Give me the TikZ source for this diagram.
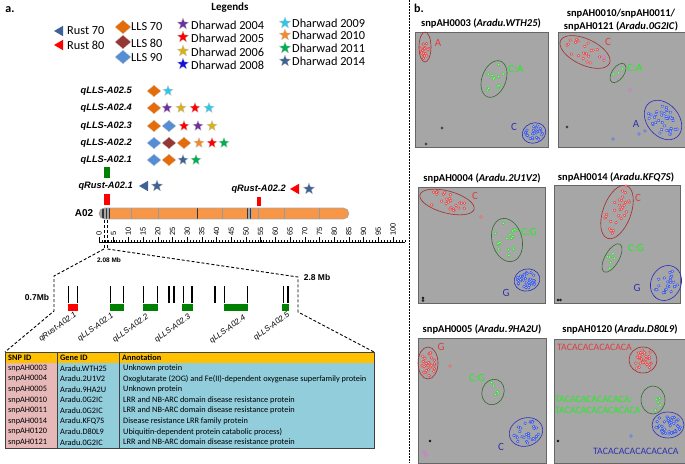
\documentclass[tikz,border=0pt]{standalone}
\usepackage{fontspec}
\setmainfont{Carlito}
\newfontfamily\arialf{Liberation Sans}
\usetikzlibrary{shapes.geometric}
\definecolor{lorange}{HTML}{E46C0A}
\definecolor{lbrown}{HTML}{953735}
\definecolor{lblue}{HTML}{558ED5}
\definecolor{spurple}{HTML}{7030A0}
\definecolor{sred}{HTML}{FF0000}
\definecolor{sgold}{HTML}{D6B11C}
\definecolor{sblue}{HTML}{1010E0}
\definecolor{scyan}{HTML}{33C5E8}
\definecolor{sorange}{HTML}{F08A2C}
\definecolor{sgreen}{HTML}{00B050}
\definecolor{ssteel}{HTML}{3F6296}
\definecolor{chrom}{HTML}{F79646}
\definecolor{tgold}{HTML}{FFC000}
\definecolor{tpink}{HTML}{E6B9B8}
\definecolor{tblue}{HTML}{92CDDC}
\definecolor{pgray}{HTML}{A6A6A6}
\definecolor{qgreen}{HTML}{008000}
\definecolor{ptred}{HTML}{E04040}
\definecolor{ptgreen}{HTML}{30D030}
\definecolor{ptblue}{HTML}{3050E0}
\definecolor{elred}{HTML}{A52A2A}
\definecolor{elgreen}{HTML}{2E6B2E}
\definecolor{elblue}{HTML}{2828C8}
\definecolor{lbred}{HTML}{E03C3C}
\definecolor{lbgreen}{HTML}{22EE22}
\definecolor{lbblue}{HTML}{3030B0}
\definecolor{magpt}{HTML}{D040D0}
\tikzset{
 dmd/.style={diamond, inner sep=0pt, minimum width=14pt, minimum height=12pt, draw=white!70!gray, line width=0.3pt},
 starsym/.style={star, star points=5, star point ratio=2.3, inner sep=0pt, minimum size=11pt, draw=white!60!gray, line width=0.3pt},
 tri/.style={regular polygon, regular polygon sides=3, shape border rotate=90, inner sep=0pt, minimum size=12pt},
 legtxt/.style={anchor=west, font=\fontsize{12.3}{12.3}\selectfont, inner sep=0pt},
 qlab/.style={anchor=east, font=\arialf\bfseries\itshape\fontsize{9.3}{10}\selectfont, inner sep=0pt},
 rlab/.style={anchor=west, rotate=90, font=\arialf\fontsize{7.5}{7.5}\selectfont, inner sep=0pt},
 mblab/.style={font=\arialf\bfseries\fontsize{8.5}{9}\selectfont, inner sep=0pt},
 glab/.style={anchor=east, rotate=36, font=\arialf\itshape\fontsize{8}{8}\selectfont, inner sep=0pt},
 zdash/.style={dash pattern=on 3pt off 2pt, line width=0.9pt},
 gline/.style={line width=1.1pt, black},
 tabtxt/.style={anchor=west, font=\fontsize{8.3}{9}\selectfont, inner sep=0pt},
 tabhead/.style={anchor=west, font=\bfseries\fontsize{8.3}{9}\selectfont, inner sep=0pt},
 plotbox/.style={fill=pgray, draw=gray!80!black, line width=0.5pt},
 ptitle/.style={font=\bfseries\fontsize{10.5}{13}\selectfont, inner sep=0pt, align=center},
 plab/.style={font=\fontsize{11}{11}\selectfont, inner sep=0pt},
 tlab/.style={font=\fontsize{9.8}{10}\selectfont, inner sep=0pt, anchor=west},
 nocall/.style={draw=black, line width=0.4pt, fill=gray!40}
}
\newcommand\snpcl[8]{%
 \begin{scope}[shift={(#1,#2)}, rotate=#5]
 \draw[#8, line width=0.6pt] (0,0) ellipse [x radius=#3pt, y radius=#4pt];
 \foreach \k in {1,...,#6}{%
   \pgfmathsetmacro\snpang{360*rnd}%
   \pgfmathsetmacro\snprad{0.8*sqrt(rnd)}%
   \draw[#7, fill=#7!35!white, line width=0.45pt] ({\snprad*#3*cos(\snpang)},{\snprad*#4*sin(\snpang)}) circle (1.4pt);
 }
 \end{scope}}
\newcommand\snppt[3]{\draw[#3, fill=#3!35!white, line width=0.45pt] (#1,#2) circle (1.4pt);}
\begin{document}
\begin{tikzpicture}[x=1pt,y=-1pt]
\pgfmathsetseed{4242}
\useasboundingbox (0,0) rectangle (685,463);
% ---------- panel a : legend ----------
\node[font=\bfseries\fontsize{12}{12}\selectfont, inner sep=0pt] (alab) at (10,10) {a.};
\node[font=\bfseries\fontsize{11}{11}\selectfont, inner sep=0pt] (legt) at (230,8) {Legends};
\node[tri, fill=ssteel] (lr70) at (60,31) {};
\node[legtxt] (lr70t) at (67,31) {Rust 70};
\node[tri, fill=sred] (lr80) at (60,45) {};
\node[legtxt] (lr80t) at (67,45) {Rust 80};
\node[dmd, fill=lorange, minimum width=16pt, minimum height=14pt] (ll70) at (123,27) {};
\node[legtxt] (ll70t) at (131,27) {LLS 70};
\node[dmd, fill=lbrown, minimum width=16pt, minimum height=14pt] (ll80) at (123,42) {};
\node[legtxt] (ll80t) at (131,43) {LLS 80};
\node[dmd, fill=lblue, minimum width=16pt, minimum height=14pt] (ll90) at (123,57) {};
\node[legtxt] (ll90t) at (131,58) {LLS 90};
\node[starsym, fill=spurple, minimum size=12pt] (ld04) at (183,24) {};
\node[legtxt] (ld04t) at (191,25) {Dharwad 2004};
\node[starsym, fill=sred, minimum size=12pt] (ld05) at (183,37) {};
\node[legtxt] (ld05t) at (191,38) {Dharwad 2005};
\node[starsym, fill=sgold, minimum size=12pt] (ld06) at (183,51) {};
\node[legtxt] (ld06t) at (191,52) {Dharwad 2006};
\node[starsym, fill=sblue, minimum size=12pt] (ld08) at (183,64) {};
\node[legtxt] (ld08t) at (191,65) {Dharwad 2008};
\node[starsym, fill=scyan, minimum size=12pt] (ld09) at (285,23) {};
\node[legtxt] (ld09t) at (292,23) {Dharwad 2009};
\node[starsym, fill=sorange, minimum size=12pt] (ld10) at (285,35) {};
\node[legtxt] (ld10t) at (292,35) {Dharwad 2010};
\node[starsym, fill=sgreen, minimum size=12pt] (ld11) at (285,48) {};
\node[legtxt] (ld11t) at (292,48) {Dharwad 2011};
\node[starsym, fill=ssteel, minimum size=12pt] (ld14) at (285,61) {};
\node[legtxt] (ld14t) at (292,61) {Dharwad 2014};
% ---------- QTL rows ----------
\node[qlab] (q5) at (132,91) {qLLS-A02.5};
\node[dmd, fill=lorange] (q5a) at (154,91) {};
\node[starsym, fill=scyan] (q5b) at (168,91) {};
\node[qlab] (q4) at (132,108) {qLLS-A02.4};
\node[dmd, fill=lorange] (q4a) at (154,108) {};
\node[starsym, fill=spurple] (q4b) at (167,108) {};
\node[starsym, fill=sgold] (q4c) at (181,108) {};
\node[starsym, fill=sred] (q4d) at (195,108) {};
\node[starsym, fill=scyan] (q4e) at (209,108) {};
\node[qlab] (q3) at (132,126) {qLLS-A02.3};
\node[dmd, fill=lorange] (q3a) at (154,126) {};
\node[dmd, fill=lblue] (q3b) at (169,126) {};
\node[starsym, fill=sred] (q3c) at (184,126) {};
\node[starsym, fill=spurple] (q3d) at (198,126) {};
\node[starsym, fill=sgold] (q3e) at (212,126) {};
\node[qlab] (q2) at (132,143) {qLLS-A02.2};
\node[dmd, fill=lblue] (q2a) at (154,143) {};
\node[dmd, fill=lbrown] (q2b) at (169,143) {};
\node[dmd, fill=lorange] (q2c) at (184,143) {};
\node[starsym, fill=sorange] (q2d) at (199,143) {};
\node[starsym, fill=sred] (q2e) at (212,143) {};
\node[starsym, fill=sgreen] (q2f) at (224,143) {};
\node[qlab] (q1) at (132,160) {qLLS-A02.1};
\node[dmd, fill=lblue] (q1a) at (154,160) {};
\node[dmd, fill=lorange] (q1b) at (169,160) {};
\node[starsym, fill=ssteel] (q1c) at (183,160) {};
\node[starsym, fill=sgreen] (q1d) at (196,160) {};
\fill[qgreen] (104,167) rectangle (110,178);
\node[qlab] (qr1) at (133,186) {qRust-A02.1};
\node[tri, fill=ssteel] (qr1a) at (145,186) {};
\node[starsym, fill=ssteel, minimum size=12pt] (qr1b) at (157,186) {};
\fill[sred] (104,194) rectangle (110,205);
\node[qlab] (qr2) at (286,189) {qRust-A02.2};
\node[tri, fill=sred] (qr2a) at (296,189) {};
\node[starsym, fill=ssteel, minimum size=12pt] (qr2b) at (309,189) {};
\fill[sred] (257,197) rectangle (261,206);
% ---------- chromosome ----------
\node[font=\arialf\bfseries\fontsize{10}{10}\selectfont, inner sep=0pt] (a02) at (84,213.5) {A02};
\begin{scope}
\clip[rounded corners=5.5pt] (99,208) rectangle (349,219);
\fill[chrom] (99,208) rectangle (349,219);
\fill[gray!70] (100,208) rectangle (110,219);
\foreach \xb in {103,106.5,109.3} \draw[black!80, line width=1.2pt] (\xb,208) -- (\xb,219);
\foreach \xb in {131,158,222,258,284,319} \draw[gray!80, line width=0.6pt] (\xb,208) -- (\xb,219);
\draw[black!80, line width=0.7pt] (197,208) -- (197,219);
\fill[gray!70] (246.5,208) rectangle (251.5,219);
\foreach \xb in {247.5,250.5} \draw[black!80, line width=1pt] (\xb,208) -- (\xb,219);
\end{scope}
\draw[gray!70, line width=0.6pt, rounded corners=5.5pt] (99,208) rectangle (349,219);
% ---------- ruler ----------
\draw[line width=0.5pt] (99,242) -- (405,242);
\foreach \i in {0,...,104} \draw[line width=0.4pt] ({99+2.94*\i},242) -- ++(0,-2.5);
\foreach \i in {0,5,...,100} {\draw[line width=0.5pt] ({99+2.94*\i},242) -- ++(0,-5);
  \node[rlab] (rl\i) at ({99+2.94*\i},236) {\i};}
% ---------- zoom connectors ----------
\coordinate (zl0) at (104,220); \coordinate (zl1) at (104,249);
\coordinate (zr0) at (107.5,220); \coordinate (zr1) at (107.5,249);
\coordinate (la) at (54,276); \coordinate (lb) at (54,311);
\coordinate (ra) at (298,277); \coordinate (rb) at (298,312);
\coordinate (tabTL) at (5,352); \coordinate (tabTR) at (374,352);
\draw[zdash] (zl0) -- (zl1);
\draw[zdash] (zr0) -- (zr1);
\draw[zdash] (zl1) -- (la) -- (lb) -- (tabTL);
\draw[zdash] (zr1) -- (ra) -- (rb) -- (tabTR);
\node[mblab, font=\arialf\bfseries\fontsize{6.5}{6.5}\selectfont] (m208) at (109,260) {2.08 Mb};
\node[mblab] (m07) at (37,297) {0.7Mb};
\node[mblab] (m28) at (317,277) {2.8 Mb};
% ---------- gene markers ----------
\foreach \xg in {68.5,77.5,110.5,123.5,143.5,157.5,169,174,183.5,192,215,224.5,247.5,283.5,288}
  \draw[gline] (\xg,286) -- (\xg,303);
\fill[sred] (68,303.5) rectangle (78,310.5);
\fill[qgreen] (110,303.5) rectangle (124,310.5);
\fill[qgreen] (143,303.5) rectangle (158,310.5);
\fill[qgreen] (182,303.5) rectangle (193,310.5);
\fill[qgreen] (224,303.5) rectangle (248,310.5);
\fill[qgreen] (282,303.5) rectangle (289,310.5);
\node[glab] (g0) at (76,314) {qRust-A02.1};
\node[glab] (g1) at (113,315) {qLLS-A02.1};
\node[glab] (g2) at (148,316) {qLLS-A02.2};
\node[glab] (g3) at (190,316) {qLLS-A02.3};
\node[glab] (g4) at (245,317) {qLLS-A02.4};
\node[glab] (g5) at (289,314) {qLLS-A02.5};
% ---------- table ----------
\fill[tgold] (5,352) rectangle (374,363);
\fill[tpink] (5,363) rectangle (57,448);
\fill[tblue] (57,363) rectangle (374,448);
\draw[black!75, line width=0.8pt] (5,352) rectangle (374,448);
\draw[black!75, line width=0.8pt] (57,352) -- (57,448);
\draw[black!75, line width=0.8pt] (119,352) -- (119,448);
\node[tabhead] (th1) at (8,357.5) {SNP ID};
\node[tabhead] (th2) at (60,357.5) {Gene ID};
\node[tabhead] (th3) at (122,357.5) {Annotation};
\foreach [count=\r] \sa/\sb/\sc in {
 snpAH0003/Aradu.WTH25/Unknown protein,
 snpAH0004/Aradu.2U1V2/Oxoglutarate (2OG) and Fe(II)-dependent oxygenase superfamily protein,
 snpAH0005/Aradu.9HA2U/Unknown protein,
 snpAH0010/Aradu.0G2IC/LRR and NB-ARC domain disease resistance protein,
 snpAH0011/Aradu.0G2IC/LRR and NB-ARC domain disease resistance protein,
 snpAH0014/Aradu.KFQ7S/Disease resistance LRR family protein,
 snpAH0120/Aradu.D80L9/Ubiquitin-dependent protein catabolic process),
 snpAH0121/Aradu.0G2IC/LRR and NB-ARC domain disease resistance protein}{
 \node[tabtxt] (ta\r) at (8,{357.7+10.6*\r}) {\sa};
 \node[tabtxt] (tb\r) at (60,{357.7+10.6*\r}) {\sb};
 \node[tabtxt] (tc\r) at (123,{357.7+10.6*\r}) {\sc};
}
% ---------- separator ----------
\draw[dash pattern=on 2pt off 1pt, line width=0.8pt] (409,0) -- (409,463);
% ---------- panel b ----------
\node[font=\bfseries\fontsize{12}{12}\selectfont, inner sep=0pt] (blab) at (419,8) {b.};
% plot 1
\node[ptitle] (pt1) at (481,23) {snpAH0003 (\textit{Aradu.WTH25})};
\draw[plotbox] (415,32) rectangle (548,147);
\snpcl{425}{47}{6}{15}{0}{16}{ptred}{elred}
\snpcl{494}{79}{12}{19}{-20}{12}{ptgreen}{elgreen}
\snpcl{534}{133}{12}{10}{20}{26}{ptblue}{elblue}
\node[plab, text=lbred] (p1a) at (438,43) {A};
\node[plab, text=lbgreen] (p1b) at (516,69) {C:A};
\node[plab, text=lbblue] (p1c) at (514,127) {C};
\draw[nocall] (442,128) circle (1.2pt);
\draw[nocall] (426,144) circle (1.2pt);
% plot 2
\node[ptitle] (pt2) at (621,20) {snpAH0010/snpAH0011/\\snpAH0121 (\textit{Aradu.0G2IC})};
\draw[plotbox] (558,32) rectangle (685,147);
\snpcl{585}{52}{27}{13}{-25}{22}{ptred}{elred}
\snpcl{618}{73}{6}{11}{-35}{3}{ptgreen}{elgreen}
\snpcl{663}{120}{16}{22}{40}{40}{ptblue}{elblue}
\snppt{604}{57}{magpt}
\snppt{630}{90}{magpt}
\snppt{613}{139}{ptblue}
\snppt{639}{134}{ptblue}
\snppt{645}{131}{ptblue}
\node[plab, text=lbred] (p2a) at (608,42) {C};
\node[plab, text=lbgreen] (p2b) at (635,68) {C:A};
\node[plab, text=lbblue] (p2c) at (636,124) {A};
\draw[nocall] (567,127) circle (1.2pt);
% plot 3
\node[ptitle] (pt3) at (482,178) {snpAH0004 (\textit{Aradu.2U1V2})};
\draw[plotbox] (418,187) rectangle (545,303);
\snpcl{447}{202}{28}{11}{-15}{25}{ptred}{elred}
\snpcl{507}{240}{15}{22}{15}{18}{ptgreen}{elgreen}
\snpcl{527}{280}{13}{11}{15}{35}{ptblue}{elblue}
\snppt{481}{217}{ptred}
\node[plab, text=lbred] (p3a) at (475,196) {C};
\node[plab, text=lbgreen] (p3b) at (529,232) {C:G};
\node[plab, text=lbblue] (p3c) at (506,293) {G};
\draw[nocall] (423,298) circle (1pt);
\draw[nocall] (423,300.5) circle (1pt);
% plot 4
\node[ptitle] (pt4) at (616,177) {snpAH0014 (\textit{Aradu.KFQ7S})};
\draw[plotbox] (554,185) rectangle (680,303);
\snpcl{617}{212}{14}{28}{-20}{28}{ptred}{elred}
\snpcl{612}{258}{7}{16}{-30}{6}{ptgreen}{elgreen}
\snpcl{666}{283}{15}{18}{-25}{25}{ptblue}{elblue}
\snppt{626}{186}{ptred}
\node[plab, text=lbred] (p4a) at (638,198) {C};
\node[plab, text=lbgreen] (p4b) at (636,248) {C:G};
\node[plab, text=lbblue] (p4c) at (637,288) {G};
\draw[nocall] (558,300) circle (1pt);
\draw[nocall] (560.5,300) circle (1pt);
% plot 5
\node[ptitle] (pt5) at (482,329) {snpAH0005 (\textit{Aradu.9HA2U})};
\draw[plotbox] (418,338) rectangle (546,463);
\snpcl{428}{363}{10}{16}{0}{25}{ptred}{elred}
\snpcl{493}{392}{11}{13}{-20}{5}{ptgreen}{elgreen}
\snpcl{526}{432}{17}{14}{20}{30}{ptblue}{elblue}
\snppt{450}{366}{ptred}
\node[plab, text=lbred] (p5a) at (441,347) {G};
\node[plab, text=lbgreen] (p5b) at (477,378) {C:G};
\node[plab, text=lbblue] (p5c) at (501,447) {C};
\draw[nocall] (430,441) circle (1pt);
\snppt{424}{452}{magpt}
\snppt{426}{455}{magpt}
% plot 6
\node[ptitle] (pt6) at (620,329) {snpAH0120 (\textit{Aradu.D80L9})};
\draw[plotbox] (554,339) rectangle (685,463);
\snpcl{643}{360}{14}{13}{0}{28}{ptred}{elred}
\snpcl{653}{400}{12}{14}{0}{5}{ptgreen}{elgreen}
\snpcl{668}{425}{16}{13}{0}{40}{ptblue}{elblue}
\snppt{631}{436}{ptblue}
\node[tlab, text=lbred] (p6a) at (557,347) {TACACACACACACA};
\node[tlab, text=lbgreen] (p6b) at (555,399) {TACACACACACACA:};
\node[tlab, text=lbgreen] (p6c) at (555,410) {TACACACACACACACA};
\node[tlab, text=lbblue] (p6d) at (593,451) {TACACACACACACACA};
\draw[nocall] (558,441) circle (1pt);
\end{tikzpicture}
\end{document}
